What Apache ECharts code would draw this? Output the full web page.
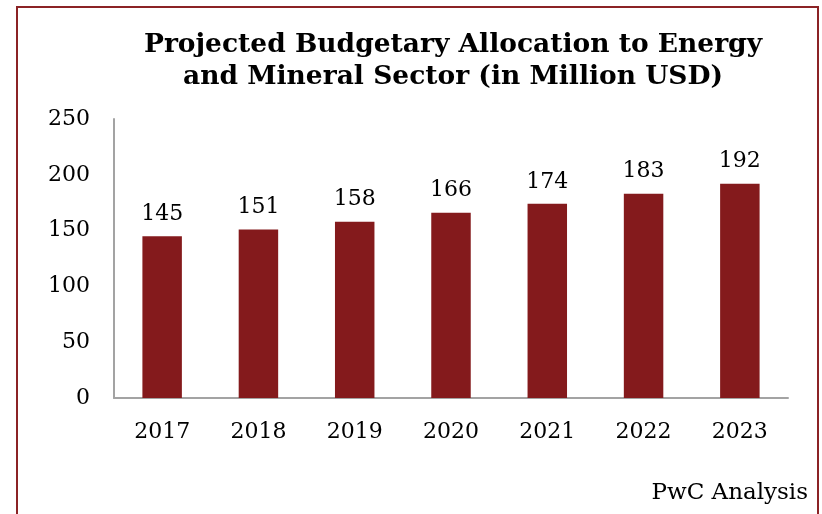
<!DOCTYPE html>
<html>
<head>
<meta charset="utf-8">
<script src="https://cdn.jsdelivr.net/npm/echarts@6/dist/echarts.min.js"></script>
<style>
  html, body { margin: 0; padding: 0; background: #ffffff; }
  #chart { width: 822px; height: 514px; }
</style>
</head>
<body>
<div id="chart"></div>
<script>
// Budget allocation by year (million USD)
const years = ['2017', '2018', '2019', '2020', '2021', '2022', '2023'];
const allocation = [145, 151, 158, 166, 174, 183, 192];
const yTicks = { min: 0, max: 250, interval: 50 };

const serif = '"DejaVu Serif", "Liberation Serif", serif';
const barColor = '#841A1C';
const axisGray = '#A3A3A3';

const chart = echarts.init(document.getElementById('chart'), null, { renderer: 'canvas' });

chart.setOption({
  backgroundColor: '#ffffff',
  animation: false,
  title: {
    text: 'Projected Budgetary Allocation to Energy\nand Mineral Sector (in Million USD)',
    left: 448,
    top: 24,
    textAlign: 'center',
    textStyle: {
      fontFamily: serif,
      fontWeight: 'bold',
      fontSize: 26.5,
      lineHeight: 32,
      color: '#000000'
    }
  },
  graphic: [
    {
      type: 'rect',
      shape: { x: 17, y: 7, width: 801, height: 600 },
      style: { fill: 'none', stroke: '#8B2325', lineWidth: 2 },
      silent: true
    },
    {
      type: 'text',
      right: 14,
      top: 482,
      style: {
        text: 'PwC Analysis',
        font: '23px ' + serif,
        fill: '#000000'
      }
    }
  ],
  grid: { left: 114, right: 34, top: 119, bottom: 116, containLabel: false },
  xAxis: {
    type: 'category',
    data: years,
    axisLine: { show: true, lineStyle: { color: axisGray, width: 2 } },
    axisTick: { show: false },
    axisLabel: {
      margin: 23,
      fontFamily: serif,
      fontSize: 22,
      color: '#000000'
    },
    splitLine: { show: false }
  },
  yAxis: {
    type: 'value',
    min: yTicks.min,
    max: yTicks.max,
    interval: yTicks.interval,
    axisLine: { show: true, lineStyle: { color: axisGray, width: 2 } },
    axisTick: { show: false },
    axisLabel: {
      margin: 24,
      fontFamily: serif,
      fontSize: 22,
      color: '#000000'
    },
    splitLine: { show: false }
  },
  series: [
    {
      type: 'bar',
      data: allocation,
      barWidth: '41%',
      itemStyle: { color: barColor },
      label: {
        show: true,
        position: 'top',
        distance: 11,
        fontFamily: serif,
        fontSize: 22,
        color: '#000000'
      }
    }
  ]
});
</script>
</body>
</html>
